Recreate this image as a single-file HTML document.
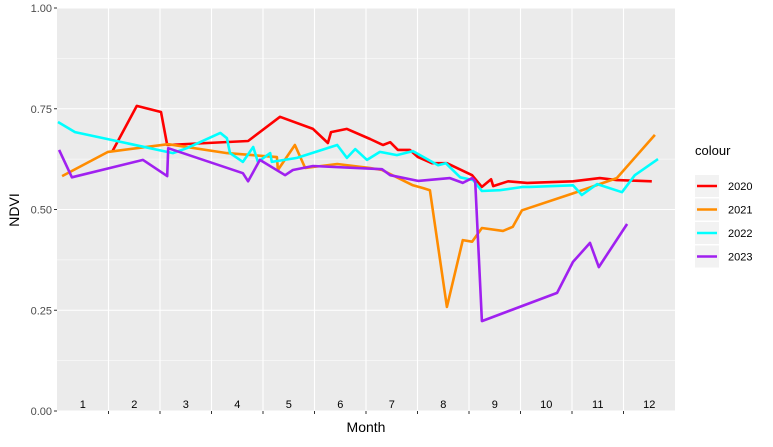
<!DOCTYPE html>
<html><head><meta charset="utf-8"><style>
body{margin:0;background:#fff;}
svg text{font-family:"Liberation Sans",Arial,sans-serif;}
</style></head><body>
<svg id="chart" width="773" height="442" xmlns="http://www.w3.org/2000/svg">
<rect x="57" y="8" width="618" height="403" fill="#EBEBEB"/>
<g id="grid"></g><g id="series"></g><g id="axes"></g>
<text x="366" y="432" font-size="14" text-anchor="middle" fill="#000">Month</text>
<text transform="translate(19,210) rotate(-90)" font-size="14" text-anchor="middle" fill="#000">NDVI</text>
<g id="legend">
<text x="695" y="155" font-size="13" fill="#000">colour</text>
</g>
</svg>
<script>
const months=["1","2","3","4","5","6","7","8","9","10","11","12"];
const yTicks=[0,0.25,0.5,0.75,1.0];
const yTickLabels=["0.00","0.25","0.50","0.75","1.00"];
const seriesNames=["2020","2021","2022","2023"];
const t2020=[1.07,1.55,2.02,2.14,3.71,4.33,4.97,5.26,5.32,5.63,6.08,6.33,6.47,6.62,6.85,7.01,7.28,7.57,8.06,8.25,8.43,8.47,8.76,9.13,10.02,10.54,10.87,11.55];
const v2020=[.643,.757,.742,.66,.67,.73,.70,.665,.692,.70,.675,.66,.667,.648,.648,.63,.615,.615,.585,.556,.575,.558,.57,.566,.57,.578,.573,.57];
const t2021=[0.10,0.99,2.16,3.30,4.27,4.29,4.62,4.82,5.44,6.08,6.31,6.91,7.11,7.24,7.57,7.88,8.06,8.25,8.66,8.85,9.03,10.02,10.87,11.61];
const v2021=[.583,.643,.662,.64,.63,.598,.66,.603,.613,.603,.598,.56,.553,.548,.258,.424,.42,.454,.447,.457,.498,.54,.578,.685];
const t2022=[0.02,0.35,2.25,2.52,3.17,3.30,3.36,3.61,3.81,3.90,4.14,4.17,4.66,5.44,5.63,5.79,6.02,6.27,6.60,6.91,7.40,7.55,7.83,8.08,8.25,8.60,9.05,9.18,10.02,10.19,10.49,10.97,11.22,11.67];
const v2022=[.717,.692,.64,.652,.69,.677,.64,.618,.655,.618,.64,.618,.628,.66,.628,.65,.623,.643,.635,.645,.61,.615,.58,.573,.546,.548,.556,.556,.56,.536,.563,.543,.585,.625];
const t2023=[0.04,0.29,1.67,2.14,2.16,3.61,3.71,3.94,4.43,4.58,4.97,6.31,6.47,7.01,7.63,7.88,8.06,8.12,8.25,9.71,10.02,10.35,10.52,11.07];
const v2023=[.648,.58,.623,.583,.652,.59,.57,.623,.585,.598,.608,.60,.585,.571,.578,.566,.578,.57,.223,.293,.37,.417,.357,.464];
const colors=["#FF0000","#FF8C00","#00FFFF","#A020F0"];
const NS="http://www.w3.org/2000/svg";
const X0=57,X1=675,Y0=411,Y1=8;
const xs=t=>X0+t/12*(X1-X0);
const ys=v=>Y0-v*(Y0-Y1);
function mk(tag,attrs,parent){const e=document.createElementNS(NS,tag);for(const k in attrs)e.setAttribute(k,attrs[k]);parent.appendChild(e);return e;}
const grid=document.getElementById('grid'),axes=document.getElementById('axes'),ser=document.getElementById('series'),leg=document.getElementById('legend');
for(let i=0;i<yTicks.length-1;i++){const m=(yTicks[i]+yTicks[i+1])/2;
 const l=mk('line',{x1:X0,x2:X1,y1:ys(m),y2:ys(m),stroke:'#fff','stroke-width':0.6},grid);
 
 }
yTicks.forEach((v,i)=>{
 const l=mk('line',{x1:X0,x2:X1,y1:ys(v),y2:ys(v),stroke:'#fff','stroke-width':1.1},grid);
 
 
 const tk=mk('line',{x1:X0-3,x2:X0,y1:ys(v),y2:ys(v),stroke:'#333','stroke-width':1},axes);
 
 
 const t=mk('text',{x:X0-5,y:ys(v)+4,'font-size':11,'text-anchor':'end',fill:'#4D4D4D'},axes);
 t.textContent=yTickLabels[i];
 
 
});
for(let k=1;k<12;k++){
 const l=mk('line',{x1:xs(k),x2:xs(k),y1:Y1,y2:Y0,stroke:'#fff','stroke-width':1.1},grid);
 
 
 const tk=mk('line',{x1:xs(k),x2:xs(k),y1:Y0,y2:Y0+3,stroke:'#333','stroke-width':1},axes);
 
 
}
months.forEach((m,i)=>{
 const t=mk('text',{x:xs(i+0.5),y:408,'font-size':11,'text-anchor':'middle',fill:'#000'},axes);
 t.textContent=m;
 
 
});
const allT=[t2020,t2021,t2022,t2023],allV=[v2020,v2021,v2022,v2023];
allT.forEach((ts,s)=>{
 const pts=ts.map((t,i)=>xs(t).toFixed(1)+','+ys(allV[s][i]).toFixed(1)).join(' ');
 const p=mk('polyline',{points:pts,fill:'none',stroke:colors[s],'stroke-width':2.6,'stroke-linejoin':'round'},ser);
 
 
 const y=186+s*23.5;
 const bg=mk('rect',{x:695,y:y-11,width:24,height:22,fill:'#F2F2F2'},leg);
 
 
 const kl=mk('line',{x1:697,x2:717,y1:y,y2:y,stroke:colors[s],'stroke-width':2.6},leg);
 
 
 const tx=mk('text',{x:728,y:y+4,'font-size':11,fill:'#000'},leg);
 tx.textContent=seriesNames[s];
 
 
});
</script>
</body></html>
